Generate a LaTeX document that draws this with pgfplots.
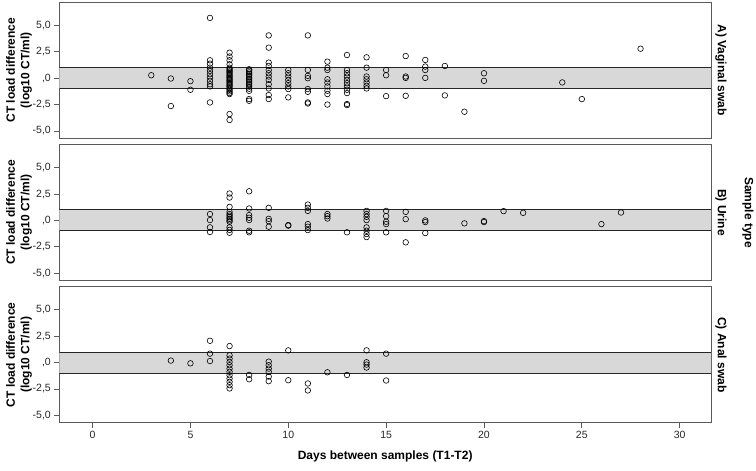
\documentclass[border=0pt]{standalone}
\usepackage{fontspec}
\setmainfont{Liberation Sans}
\usepackage{pgfplots}
\pgfplotsset{compat=1.18}

\definecolor{bandgray}{RGB}{216,216,216}
\definecolor{framegray}{RGB}{90,90,90}

\begin{document}
\begin{tikzpicture}
\useasboundingbox (0pt,0pt) rectangle (756pt,471pt);

\pgfplotsset{
  panel/.style={
    scale only axis,
    width=651.7pt, height=136pt,
    xmin=-1.7, xmax=31.6, ymin=-5.7, ymax=7.2,
    axis line style={framegray, line width=0.9pt},
    ytick={-5,-2.5,0,2.5,5},
    yticklabels={{-5,0},{-2,5},{,0},{2,5},{5,0}},
    ytick pos=left,
    tick align=outside,
    major tick length=5pt,
    tick style={framegray, line width=0.8pt},
    ticklabel style={font=\fontsize{10.5}{12}\selectfont, text=black!85},
    ylabel={CT load difference\\(log10 CT/ml)},
    ylabel style={font=\bfseries\fontsize{12}{14.5}\selectfont, align=center,
      at={(axis description cs:-0.0618,0.5)}, anchor=center},
  },
  pts/.style={only marks, mark=o, mark size=2.8pt, mark options={black, line width=0.6pt}},
}

% --- A) Vaginal swab ---
\begin{axis}[panel, at={(59.3pt,468.7pt)}, anchor=north west, xtick=\empty]
\addplot[draw=none, fill=bandgray] coordinates {(-5,-1) (40,-1) (40,1) (-5,1)} -- cycle;
\addplot[black!85, line width=0.9pt] coordinates {(-5,1) (40,1)};
\addplot[black!85, line width=0.9pt] coordinates {(-5,-1) (40,-1)};
\addplot[pts] coordinates {
 (3,0.28) (4,-0.03) (4,-2.64) (5,-0.28) (5,-1.1)
 (6,5.72) (6,1.7) (6,1.38) (6,1.0) (6,0.69) (6,0.38) (6,0.07) (6,-0.25) (6,-0.57) (6,-0.78) (6,-2.3)
 (7,2.42) (7,2.05) (7,1.7) (7,1.32) (7,1.0) (7,0.88) (7,0.76) (7,0.64) (7,0.52) (7,0.4) (7,0.28) (7,0.16)
 (7,0.04) (7,-0.08) (7,-0.2) (7,-0.32) (7,-0.44) (7,-0.56) (7,-0.68) (7,-0.8) (7,-0.95) (7,-1.1) (7,-1.25)
 (7,-1.4) (7,-1.5) (7,-3.4) (7,-3.96)
 (8,0.85) (8,0.7) (8,0.55) (8,0.4) (8,0.25) (8,0.1) (8,-0.05) (8,-0.2) (8,-0.35) (8,-0.5) (8,-0.65)
 (8,-0.8) (8,-1.0) (8,-1.2) (8,-1.98) (8,-2.14)
 (9,4.06) (9,2.9) (9,1.48) (9,1.16) (9,0.78) (9,0.47) (9,0.16) (9,-0.16) (9,-0.57) (9,-0.97) (9,-1.6) (9,-1.98)
 (10,0.78) (10,0.47) (10,0.16) (10,-0.16) (10,-0.47) (10,-0.78) (10,-1.03) (10,-1.82)
 (11,4.06) (11,0.78) (11,0.22) (11,0.0) (11,-1.03) (11,-1.29) (11,-2.3) (11,-2.4)
 (12,1.57) (12,1.0) (12,0.78) (12,-0.1) (12,-0.41) (12,-0.78) (12,-1.19) (12,-1.5) (12,-2.5)
 (13,2.2) (13,0.78) (13,0.47) (13,0.16) (13,-0.16) (13,-0.47) (13,-0.78) (13,-1.1) (13,-1.41) (13,-2.45) (13,-2.55)
 (14,1.98) (14,1.0) (14,0.16) (14,-0.1) (14,-0.41) (14,-0.72) (14,-0.97)
 (15,0.78) (15,0.28) (15,-1.7)
 (16,2.1) (16,0.16) (16,0.03) (16,-1.67)
 (17,1.73) (17,1.1) (17,0.78) (17,0.03)
 (18,1.16) (18,-1.63)
 (19,-3.18)
 (20,0.47) (20,-0.25)
 (24,-0.4) (25,-1.98) (28,2.8)
};
\end{axis}

% --- B) Urine ---
\begin{axis}[panel, at={(59.3pt,326.5pt)}, anchor=north west, xtick=\empty]
\addplot[draw=none, fill=bandgray] coordinates {(-5,-1) (40,-1) (40,1) (-5,1)} -- cycle;
\addplot[black!85, line width=0.9pt] coordinates {(-5,1) (40,1)};
\addplot[black!85, line width=0.9pt] coordinates {(-5,-1) (40,-1)};
\addplot[pts] coordinates {
 (6,0.6) (6,0.03) (6,-0.66) (6,-1.1)
 (7,2.55) (7,2.17) (7,1.28) (7,0.8) (7,0.6) (7,0.45) (7,0.3) (7,0.15) (7,0.0) (7,-0.13) (7,-0.66) (7,-0.9) (7,-1.17)
 (8,2.76) (8,1.13) (8,0.5) (8,0.25) (8,0.03) (8,-0.98) (8,-1.13)
 (9,1.19) (9,0.15) (9,-0.07) (9,-0.6)
 (10,-0.44) (10,-0.5)
 (11,1.5) (11,1.19) (11,0.9) (11,-0.35) (11,-0.6) (11,-0.92)
 (12,0.6) (12,0.4) (12,0.18)
 (13,-1.13)
 (14,0.9) (14,0.6) (14,0.34) (14,0.03) (14,-0.66) (14,-0.98) (14,-1.29) (14,-1.58)
 (15,0.9) (15,0.4) (15,-0.13) (15,-0.35) (15,-1.13)
 (16,0.81) (16,0.12) (16,-2.08)
 (17,0.0) (17,-0.16) (17,-1.2)
 (19,-0.28) (20,-0.07) (20,-0.16) (21,0.88) (22,0.72) (26,-0.35) (27,0.75)
};
\end{axis}

% --- C) Anal swab ---
\begin{axis}[panel, at={(59.3pt,184.3pt)}, anchor=north west,
  xtick={0,5,10,15,20,25,30}, xticklabels={0,5,10,15,20,25,30}, xtick pos=bottom,
  xlabel={Days between samples (T1-T2)},
  xlabel style={font=\bfseries\fontsize{12}{14}\selectfont,
    at={(axis description cs:0.5,0)}, anchor=center, yshift=-34pt}]
\addplot[draw=none, fill=bandgray] coordinates {(-5,-1) (40,-1) (40,1) (-5,1)} -- cycle;
\addplot[black!85, line width=0.9pt] coordinates {(-5,1) (40,1)};
\addplot[black!85, line width=0.9pt] coordinates {(-5,-1) (40,-1)};
\addplot[pts] coordinates {
 (4,0.19) (5,-0.07)
 (6,2.07) (6,0.85) (6,0.15)
 (7,1.57) (7,0.69) (7,0.38) (7,0.06) (7,-0.25) (7,-0.57) (7,-0.88) (7,-1.2) (7,-1.51) (7,-1.83) (7,-2.14) (7,-2.45)
 (8,-1.17) (8,-1.58)
 (9,0.09) (9,-0.25) (9,-0.57) (9,-0.88) (9,-1.32) (9,-1.76)
 (10,1.16) (10,-1.67)
 (11,-1.98) (11,-2.64)
 (12,-0.92) (13,-1.17)
 (14,1.16) (14,0.03) (14,-0.19) (14,-0.47)
 (15,0.85) (15,-1.7)
};
\end{axis}

% strip labels on the right
\node[rotate=-90, font=\bfseries\fontsize{12}{14}\selectfont] at (721pt,400.7pt) {A) Vaginal swab};
\node[rotate=-90, font=\bfseries\fontsize{12}{14}\selectfont] at (721pt,258.5pt) {B) Urine};
\node[rotate=-90, font=\bfseries\fontsize{12}{14}\selectfont] at (721pt,116.3pt) {C) Anal swab};
\node[rotate=-90, font=\bfseries\fontsize{12}{14}\selectfont] at (748pt,258.5pt) {Sample type};

\end{tikzpicture}
\end{document}
